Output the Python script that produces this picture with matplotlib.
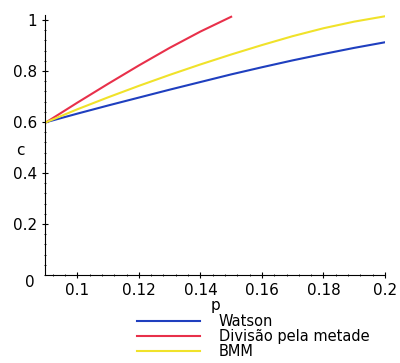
import numpy as np
import matplotlib.pyplot as plt
from matplotlib.ticker import MultipleLocator

# Daten
p = [0.09, 0.10, 0.11, 0.12, 0.13, 0.14, 0.15, 0.16, 0.17, 0.18, 0.19, 0.20]
watson = [0.6, 0.633, 0.665, 0.696, 0.727, 0.757, 0.787, 0.815, 0.842, 0.867, 0.891, 0.913]
bmm = [0.6, 0.65, 0.697, 0.742, 0.785, 0.826, 0.865, 0.902, 0.937, 0.968, 0.994, 1.015]
p_div = [0.09, 0.10, 0.11, 0.12, 0.13, 0.14, 0.15]
divisao = [0.6, 0.676, 0.75, 0.822, 0.891, 0.955, 1.013]

xticks = [0.1, 0.12, 0.14, 0.16, 0.18, 0.2]
xticklabels = ['0.1', '0.12', '0.14', '0.16', '0.18', '0.2']
yticks = [0.2, 0.4, 0.6, 0.8, 1]
yticklabels = ['0.2', '0.4', '0.6', '0.8', '1']

fig = plt.figure(figsize=(4.0, 3.63), dpi=100)
ax = fig.add_axes([0.1125, 0.2424, 0.85, 0.7163])

l1, = ax.plot(p, watson, color='#1f3fbf', linewidth=1.5)
l2, = ax.plot(p_div, divisao, color='#e8304a', linewidth=1.5)
l3, = ax.plot(p, bmm, color='#f0e22a', linewidth=1.5)

ax.set_xlim(0.0895, 0.2)
ax.set_ylim(0, 1.02)

ax.spines['top'].set_visible(False)
ax.spines['right'].set_visible(False)

ax.set_xticks(xticks)
ax.set_xticklabels(xticklabels)
ax.set_yticks(yticks)
ax.set_yticklabels(yticklabels)
ax.xaxis.set_minor_locator(MultipleLocator(0.004))
ax.yaxis.set_minor_locator(MultipleLocator(0.04))
ax.tick_params(which='major', length=4, direction='inout', labelsize=11, color='black')
ax.tick_params(which='minor', length=2, direction='inout')

# "0" unten links, "c" zwischen 0.4 und 0.6
fig.text(0.075, 0.222, '0', fontsize=11, ha='center', va='center')
fig.text(0.05, 0.585, 'c', fontsize=11, ha='center', va='center')

ax.set_xlabel('p', fontsize=11, labelpad=0)

fig.legend([l1, l2, l3], ['Watson', 'Divisão pela metade', 'BMM'],
           loc='lower left', bbox_to_anchor=(0.31, -0.025), frameon=False,
           fontsize=10.5, handlelength=4.3, handletextpad=1.3, labelspacing=0.0)

plt.savefig('out.png', dpi=100)
